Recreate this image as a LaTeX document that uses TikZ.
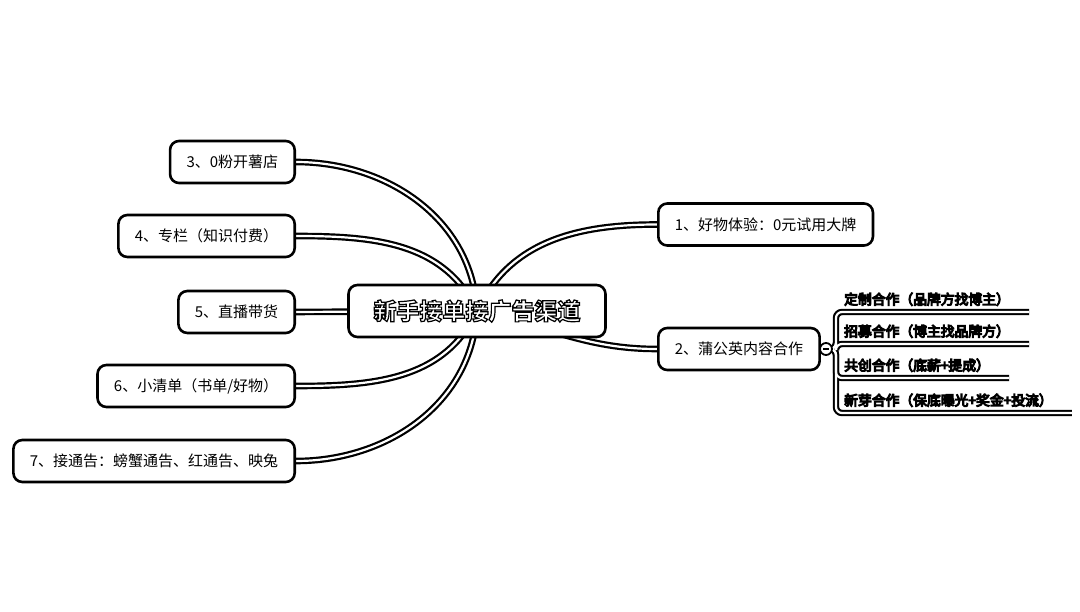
\documentclass[tikz,border=0pt]{standalone}
\usepackage{fontspec}
\newfontfamily\cjk{Noto Sans CJK SC}
\usetikzlibrary{backgrounds}

% white letters with a black rim
\newcommand\rimtext[2][1.2]{\special{pdf:literal direct 0 0 0 RG #1 w 2 Tr}#2\special{pdf:literal direct 0 Tr}}

\tikzset{
  topic/.style={draw, line width=2.6pt, rounded corners=9pt, fill=white,
    font=\cjk\fontsize{15}{17}\selectfont, inner xsep=16.5pt, minimum height=42pt},
  central/.style={topic, font=\cjk\bfseries\fontsize{23}{26}\selectfont,
    text=white, inner xsep=25pt, minimum height=52pt},
  subtopic/.style={anchor=south west, text=white, inner xsep=3pt, inner ysep=6pt,
    font=\cjk\fontsize{13.8}{15}\selectfont},
  branch/.style={double=white, double distance=2.2pt, line width=2.2pt},
  wireouter/.style={line width=6.4pt, rounded corners=6pt},
  wireinner/.style={line width=2.2pt, white, rounded corners=6pt},
  toggle/.style={circle, draw, line width=1.8pt, fill=white, minimum size=12pt, inner sep=0pt,
    path picture={\draw[line width=1.8pt] ([xshift=-3pt]path picture bounding box.center)
      -- ([xshift=3pt]path picture bounding box.center);}}
}

\begin{document}
\begin{tikzpicture}[x=1pt,y=1pt]
\useasboundingbox (0,0) rectangle (1080,-612);

\node[central] (hub) at (477,-311) {\rimtext{新手接单接广告渠道}};

\node[topic, anchor=west] (n1) at (657,-224.5) {1、好物体验：0元试用大牌};
\node[topic, anchor=west] (n2) at (657,-349) {2、蒲公英内容合作};
\foreach \name/\y/\txt in {n3/162/{3、0粉开薯店}, n4/236/{4、专栏（知识付费）},
  n5/312/{5、直播带货}, n6/386/{6、小清单（书单/好物）},
  n7/461/{7、接通告：螃蟹通告、红通告、映兔}}
  \node[topic, anchor=east] (\name) at (296,-\y) {\txt};

\node[toggle] (tog) at (826,-349) {};
\coordinate (fork) at (836,-349);
\foreach \name/\y/\txt in {s1/312/{定制合作（品牌方找博主）}, s2/344/{招募合作（博主找品牌方）},
  s3/378/{共创合作（底薪+提成）}, s4/413/{新芽合作（保底曝光+奖金+投流）}}
  \node[subtopic] (\name) at (841,-\y) {\rimtext[1.1]{\txt}};

\begin{scope}[on background layer]
  \draw[branch] (hub.center) to[out=93, in=0] (n3.east);
  \draw[branch] (hub.center) to[out=115, in=0] (n4.east);
  \draw[branch] (hub.center) -- (n5.east);
  \draw[branch] (hub.center) to[out=-115, in=0] (n6.east);
  \draw[branch] (hub.center) to[out=-93, in=0] (n7.east);
  \draw[branch] (hub.center) to[out=65, in=180] (n1.west);
  \draw[branch] (hub.center) to[out=-12, in=180] (n2.west);
  \draw[branch] (n2.east) -- (tog.west);
  \foreach \pass in {wireouter, wireinner}
    \foreach \s in {s1, s2, s3, s4}
      \draw[\pass] (tog.east) -- (fork) |- ([xshift=16pt]\s.south east);
\end{scope}
\end{tikzpicture}
\end{document}
